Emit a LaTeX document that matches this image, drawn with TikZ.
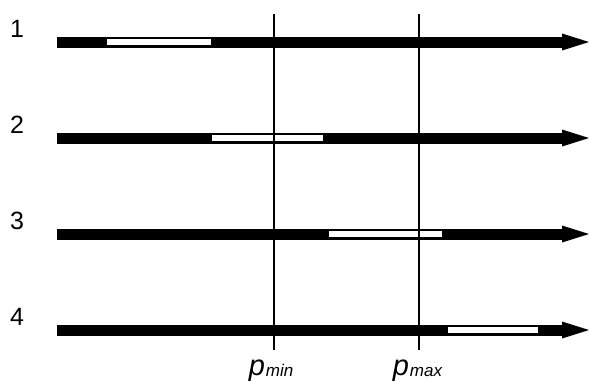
\documentclass[tikz,border=0pt]{standalone}
\usepackage{fontspec}
\setmainfont{Liberation Sans}
\begin{document}
\begin{tikzpicture}[
    x=1pt,
    y=-1pt,
    barra/.style={fill=black},
    hueco/.style={fill=white},
    limite/.style={line width=2pt},
    numero/.style={font=\fontsize{25}{25}\selectfont,anchor=base},
    letra/.style={font=\fontsize{29}{29}\selectfont\itshape,anchor=base,inner sep=0pt},
    indice/.style={font=\fontsize{17}{17}\selectfont\itshape,anchor=base west,inner sep=0pt}
]
    \useasboundingbox (0,0) rectangle (590,384);
    % Barras con flecha y tramo blanco
    \foreach \n/\y/\a/\b in {1/42/107/211, 2/138/212/323, 3/234/329/442, 4/330/448/538} {
        \path[barra] (57,\y-5.5) rectangle (564,\y+5.5);
        \path[barra] (562,\y-8.5) -- (589,\y) -- (562,\y+8.5) -- cycle;
        \path[hueco] (\a,\y-3.2) rectangle (\b,\y+3.2);
        \node[numero] (num\n) at (17,\y-5) {\n};
    }

    % Limites
    \coordinate (minsup) at (274,14);
    \coordinate (mininf) at (274,350);
    \coordinate (maxsup) at (419,14);
    \coordinate (maxinf) at (419,350);
    \draw[limite] (minsup) -- (mininf);
    \draw[limite] (maxsup) -- (maxinf);

    % Etiquetas
    \node[letra] (pmin) at (257,375) {p};
    \node[indice] (imin) at ([xshift=0.5pt,yshift=-1pt]pmin.base east) {min};
    \node[letra] (pmax) at (401,375) {p};
    \node[indice] (imax) at ([xshift=0.5pt,yshift=-1pt]pmax.base east) {max};
\end{tikzpicture}
\end{document}
